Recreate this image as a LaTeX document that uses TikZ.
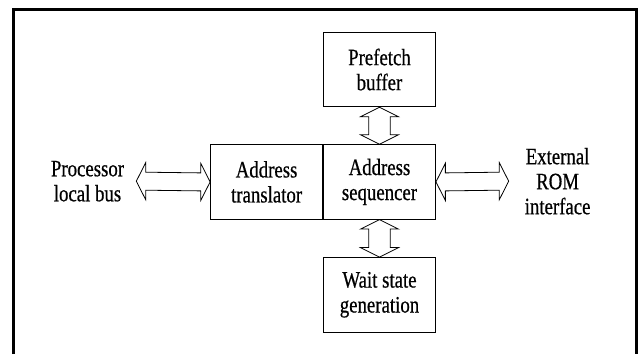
\documentclass[tikz,border=0pt]{standalone}
\usepackage{fontspec}
\setmainfont{Liberation Serif}[FakeStretch=0.8, FakeBold=0.6]
\usetikzlibrary{positioning}
\usetikzlibrary{calc}
\newcommand\hbus[2]{\draw[bus] (#1) -- ++(9.4,18.5) -- ++(0,-9.5) -- ($(#2)+(-9.4,9)$) -- ++(0,9.5) -- (#2) -- ++(-9.4,-18.5) -- ++(0,9.5) -- ($(#1)+(9.4,-9)$) -- ++(0,-9.5) -- cycle;}
\newcommand\vbus[2]{\draw[bus] (#1) -- ++(19,-9.5) -- ++(-8.2,0) -- ($(#2)+(10.8,9.5)$) -- ++(8.2,0) -- (#2) -- ++(-19,9.5) -- ++(8.2,0) -- ($(#1)+(-10.8,-9.5)$) -- ++(-8.2,0) -- cycle;}

\begin{document}
\begin{tikzpicture}[x=1pt, y=1pt,
  block/.style={draw, line width=0.9pt, minimum width=112pt, minimum height=74.5pt, inner sep=0pt, align=center, font=\fontsize{23.5}{25}\selectfont},
  label/.style={align=center, font=\fontsize{23.5}{25}\selectfont},
  bus/.style={line width=0.8pt, line join=miter}]
\useasboundingbox (0, 0) rectangle (638, 354);
\draw[line width=3pt] (13.5, 0) |- (636.3, 344.5) -- (636.3, 0);
\node[block] (pre) at (379.5, 284.5) {Prefetch\\buffer};
\node[block, below=37pt of pre] (seq) {Address\\sequencer};
\node[block, left=0pt of seq] (tr) {Address\\translator};
\node[block, below=37.5pt of seq] (wait) {Wait state\\generation};
\node[label] (proc) at (87.5, 172.8) {Processor\\local bus};
\node[label] (rom) at (557.6, 172.8) {External\\ROM\\interface};
\coordinate (procbus) at (136.3, 172.8);
\coordinate (rombus) at (508.7, 172.8);
\hbus{procbus}{tr.west}
\hbus{seq.east}{rombus}
\vbus{pre.south}{seq.north}
\vbus{seq.south}{wait.north}
\end{tikzpicture}
\end{document}
